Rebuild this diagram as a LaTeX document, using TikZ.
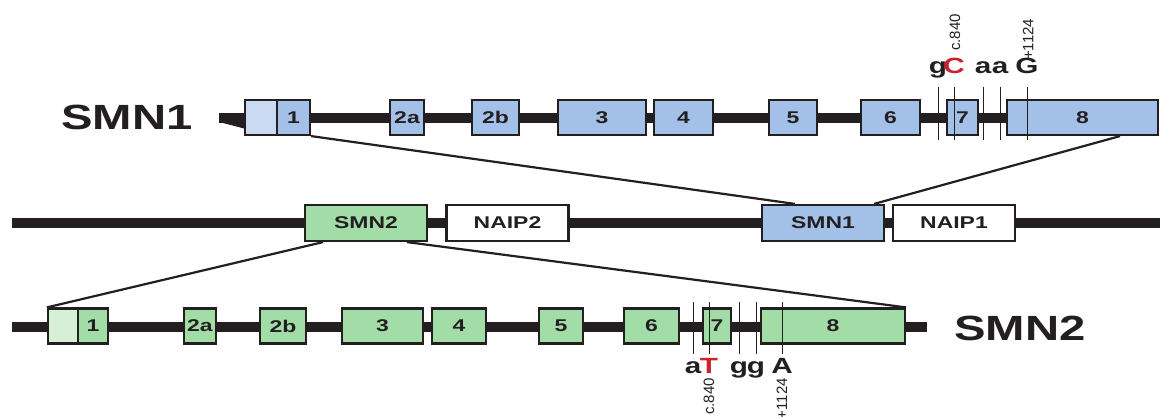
\documentclass[tikz,border=0pt]{standalone}
\usepackage{fontspec}
\setmainfont{Liberation Sans}
\usepackage{tikz}
\usetikzlibrary{arrows}
\usetikzlibrary{shapes}
\usetikzlibrary{backgrounds,positioning}
\usepackage{xcolor}
\definecolor{smnblue}{HTML}{A3C0E8}
\definecolor{utrblue}{HTML}{C9DAF2}
\definecolor{smngreen}{HTML}{A2DCA7}
\definecolor{utrgreen}{HTML}{D5F0D6}
\definecolor{snpred}{HTML}{D0202E}
\definecolor{ink}{HTML}{231F20}
\newcommand{\widetxt}[1]{\scalebox{1.35}[1]{#1}}

\begin{document}
\begin{tikzpicture}[x=1pt,y=-1pt]
      \tikzstyle{every node}=[inner sep=0pt, text=ink]
      \tikzstyle{exon}=[rectangle, draw=ink, line width=2.2pt, minimum height=35pt, font=\fontsize{17}{17}\selectfont\bfseries]
      \tikzstyle{gene}=[exon, minimum height=36pt, minimum width=122pt]
      \tikzstyle{backbone}=[line width=10.5pt, ink]
      \tikzstyle{link}=[line width=2.2pt, ink]
      \tikzstyle{site}=[line width=1pt, ink]
      \tikzstyle{nucl}=[font=\fontsize{22}{22}\selectfont\bfseries, anchor=base]
      \tikzstyle{postxt}=[font=\fontsize{15}{15}\selectfont, rotate=90]
      \tikzstyle{genetitle}=[font=\fontsize{35}{35}\selectfont\bfseries]
      \useasboundingbox (0,0) rectangle (1161,417);

      \draw[backbone] (219,118) -- (1008,118);
      \fill[ink] (219,122) -- (246,122) -- (246,129) -- cycle;
      \draw[backbone] (12,223) -- (1160,223);
      \draw[backbone] (12,327) -- (927,327);

      \node[genetitle] (t1) at (127,117) {\widetxt{SMN1}};
      \node[genetitle] (t2) at (1020,328) {\widetxt{SMN2}};

      \node[exon, fill=utrblue, minimum width=32pt] (a0) at (261,117.5) {};
      \node[exon, fill=smnblue, minimum width=33pt] (a1) at (293.5,117.5) {\widetxt{1}};
      \node[exon, fill=smnblue, minimum width=34pt] (a2a) at (407,117.5) {\widetxt{2a}};
      \node[exon, fill=smnblue, minimum width=47pt] (a2b) at (495.5,117.5) {\widetxt{2b}};
      \node[exon, fill=smnblue, minimum width=88pt] (a3) at (602,117.5) {\widetxt{3}};
      \node[exon, fill=smnblue, minimum width=59pt] (a4) at (683.5,117.5) {\widetxt{4}};
      \node[exon, fill=smnblue, minimum width=48pt] (a5) at (793,117.5) {\widetxt{5}};
      \node[exon, fill=smnblue, minimum width=59pt] (a6) at (890.5,117.5) {\widetxt{6}};
      \node[exon, fill=smnblue, minimum width=31pt] (a7) at (962.5,117.5) {\widetxt{7}};
      \node[exon, fill=smnblue, minimum width=151pt] (a8) at (1082.5,117.5) {\widetxt{8}};

      \node[gene, fill=smngreen] (g2) at (366,223) {\widetxt{SMN2}};
      \node[gene, fill=white] (n2) at (507.5,223) {\widetxt{NAIP2}};
      \node[gene, fill=smnblue] (g1) at (823,223) {\widetxt{SMN1}};
      \node[gene, fill=white] (n1) at (954,223) {\widetxt{NAIP1}};

      \node[exon, fill=utrgreen, minimum width=30pt] (b0) at (63,326) {};
      \node[exon, fill=smngreen, minimum width=30pt] (b1) at (93,326) {\widetxt{1}};
      \node[exon, fill=smngreen, minimum width=32pt] (b2a) at (200,326) {\widetxt{2a}};
      \node[exon, fill=smngreen, minimum width=46pt] (b2b) at (283,326) {\widetxt{2b}};
      \node[exon, fill=smngreen, minimum width=81pt] (b3) at (382.5,326) {\widetxt{3}};
      \node[exon, fill=smngreen, minimum width=54pt] (b4) at (459,326) {\widetxt{4}};
      \node[exon, fill=smngreen, minimum width=44pt] (b5) at (561,326) {\widetxt{5}};
      \node[exon, fill=smngreen, minimum width=55pt] (b6) at (651.5,326) {\widetxt{6}};
      \node[exon, fill=smngreen, minimum width=28pt] (b7) at (717,326) {\widetxt{7}};
      \node[exon, fill=smngreen, minimum width=144pt] (b8) at (833,326) {\widetxt{8}};

      \draw[link] (a1.south east) -- ([xshift=34pt]g1.north west);
      \draw[link] ([xshift=37.5pt]a8.south) -- ([xshift=-11pt]g1.north east);
      \draw[link] ([xshift=-43pt]g2.south) -- (b0.north west);
      \draw[link] ([xshift=41pt]g2.south) -- (b8.north east);

      \foreach \x in {938,954,983,1000,1027}
        \draw[site] (\x,87) -- (\x,140);
      \foreach \x in {693,709,739,756,782}
        \draw[site] (\x,302) -- (\x,354);

      \node[nucl] (s1) at (938,74) {\widetxt{g}};
      \node[nucl, text=snpred] (s2) at (954,74) {\widetxt{C}};
      \node[nucl] (s3) at (983,74) {\widetxt{a}};
      \node[nucl] (s4) at (1000,74) {\widetxt{a}};
      \node[nucl] (s5) at (1027,74) {\widetxt{G}};
      \node[postxt, anchor=west] (p1) at (955,51) {c.840};
      \node[postxt, anchor=west] (p2) at (1028,60) {+1124};

      \node[nucl] (r1) at (693,373) {\widetxt{a}};
      \node[nucl, text=snpred] (r2) at (709,373) {\widetxt{T}};
      \node[nucl] (r3) at (739,373) {\widetxt{g}};
      \node[nucl] (r4) at (756,373) {\widetxt{g}};
      \node[nucl] (r5) at (782,373) {\widetxt{A}};
      \node[postxt, anchor=east] (q1) at (709,378) {c.840};
      \node[postxt, anchor=east] (q2) at (782,378) {+1124};
    \end{tikzpicture}
\end{document}
